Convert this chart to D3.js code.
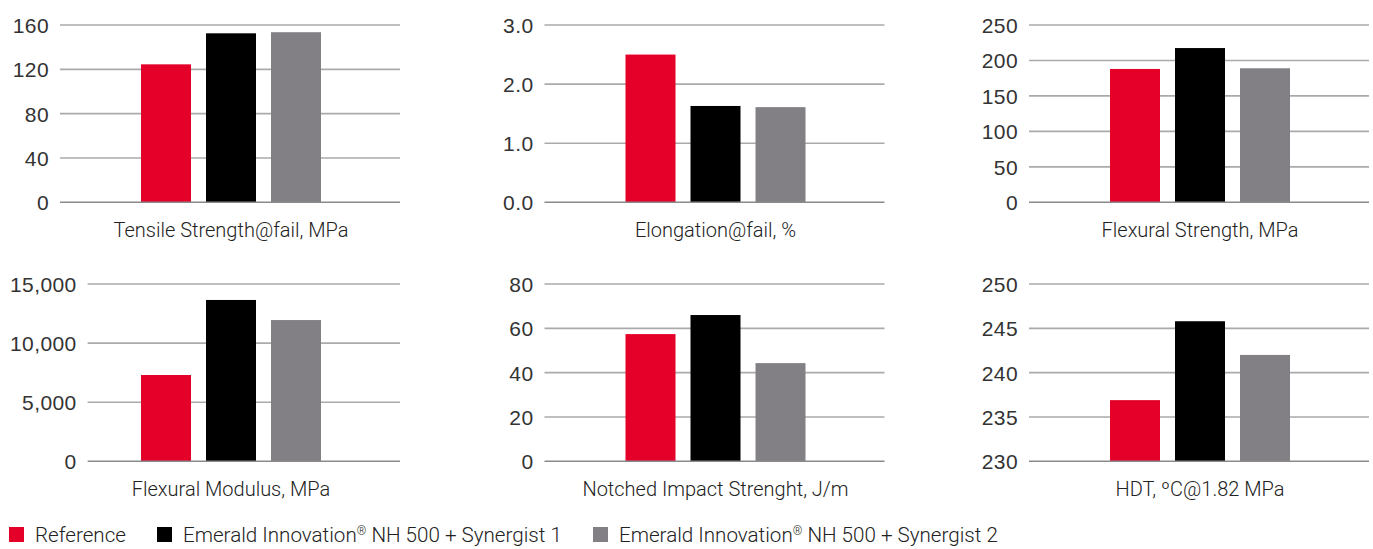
<!DOCTYPE html>
<html>
<head>
<meta charset="utf-8">
<script src="https://cdn.jsdelivr.net/npm/d3@7"></script>
<style>
  body { margin: 0; background: #fff; }
  svg { display: block; font-family: Roboto, "Liberation Sans", sans-serif; font-weight: 300; }
  .tick-label { fill: #333; font-size: 21px; letter-spacing: 0.4px; }
  .cat-label { fill: #222; font-size: 20px; }
  .legend-label { fill: #222; font-size: 20.6px; }
</style>
</head>
<body>
<div id="chart"></div>
<script>
var categories = [
  "Tensile Strength@fail, MPa",
  "Elongation@fail, %",
  "Flexural Strength, MPa",
  "Flexural Modulus, MPa",
  "Notched Impact Strenght, J/m",
  "HDT, \u00baC@1.82 MPa"
];
var series = [
  "Reference",
  "Emerald Innovation\u00ae NH 500 + Synergist 1",
  "Emerald Innovation\u00ae NH 500 + Synergist 2"
];
var referenceValues  = [124.5, 2.5, 188, 7300, 57.4, 236.9];
var synergist1Values = [152.5, 1.63, 217.5, 13650, 66, 245.8];
var synergist2Values = [153.5, 1.61, 189, 11950, 44.3, 242];

var tickValues = [
  [0, 40, 80, 120, 160],
  [0, 1, 2, 3],
  [0, 50, 100, 150, 200, 250],
  [0, 5000, 10000, 15000],
  [0, 20, 40, 60, 80],
  [230, 235, 240, 245, 250]
];
var tickFormats = ["d", ".1f", "d", ",", "d", "d"];

var colors = ["#e40028", "#000000", "#828085"];

var W = 1373, H = 549;
var panelW = 484.5, plotH = 177.3;
var rowTop = [25, 284];

var svg = d3.select("#chart").append("svg")
  .attr("width", W)
  .attr("height", H);

var x = d3.scaleBand()
  .domain(series)
  .range([141, 321])
  .paddingInner(15 / 65);

var valuesBySeries = [referenceValues, synergist1Values, synergist2Values];

categories.forEach(function(cat, i) {
  var col = i % 3, row = Math.floor(i / 3);
  var ticks = tickValues[i];
  var g = svg.append("g")
    .attr("transform", "translate(" + (col * panelW) + "," + rowTop[row] + ")");

  var y = d3.scaleLinear()
    .domain([ticks[0], ticks[ticks.length - 1]])
    .range([plotH, 0]);

  // tick labels (measure widths to place gridlines like the original)
  var axisG = g.append("g")
    .call(d3.axisLeft(y).tickValues(ticks).tickFormat(d3.format(tickFormats[i])).tickSize(0).tickPadding(0));
  axisG.select(".domain").remove();
  axisG.selectAll("text")
    .attr("class", "tick-label")
    .attr("fill", null)
    .attr("font-size", null)
    .attr("font-family", null)
    .attr("dy", "0.35em");
  var maxW = 0;
  axisG.selectAll("text").each(function() { maxW = Math.max(maxW, this.getComputedTextLength()); });
  var labelRight = Math.max(49, 10 + maxW);
  axisG.attr("transform", "translate(" + labelRight + ",0)");
  var gridLeft = labelRight + 11;

  g.selectAll(".grid")
    .data(ticks.slice(1))
    .enter().append("line")
    .attr("class", "grid")
    .attr("x1", gridLeft)
    .attr("x2", 400)
    .attr("y1", function(d) { return y(d); })
    .attr("y2", function(d) { return y(d); })
    .attr("stroke", "#aaaaaa")
    .attr("stroke-width", 1.6);

  g.selectAll(".bar")
    .data(series)
    .enter().append("rect")
    .attr("class", "bar")
    .attr("x", function(s) { return x(s); })
    .attr("width", x.bandwidth())
    .attr("y", function(s, j) { return y(valuesBySeries[j][i]); })
    .attr("height", function(s, j) { return y(ticks[0]) - y(valuesBySeries[j][i]); })
    .attr("fill", function(s, j) { return colors[j]; });

  g.append("line")
    .attr("x1", gridLeft)
    .attr("x2", 400)
    .attr("y1", y(ticks[0]))
    .attr("y2", y(ticks[0]))
    .attr("stroke", "#8a8a8a")
    .attr("stroke-width", 1.4);

  g.append("text")
    .attr("class", "cat-label")
    .attr("x", 231)
    .attr("y", plotH + 34.5)
    .attr("text-anchor", "middle")
    .text(cat);
});

// legend
var legendX = [9, 157, 593];
var legend = svg.append("g").attr("transform", "translate(0,527)");
var item = legend.selectAll(".item")
  .data(series)
  .enter().append("g")
  .attr("class", "item")
  .attr("transform", function(d, j) { return "translate(" + legendX[j] + ",0)"; });
item.append("rect")
  .attr("width", 15)
  .attr("height", 15)
  .attr("fill", function(d, j) { return colors[j]; });
var label = item.append("text")
  .attr("class", "legend-label")
  .attr("x", 26)
  .attr("y", 15);
// small raised ® like the original
label.each(function(d) {
  var t = d3.select(this);
  var parts = d.split("\u00ae");
  t.append("tspan").text(parts[0]);
  if (parts.length > 1) {
    t.append("tspan").attr("font-size", "12px").attr("dy", "-7").text("\u00ae");
    t.append("tspan").attr("dy", "7").text(parts[1]);
  }
});
</script>
</body>
</html>
